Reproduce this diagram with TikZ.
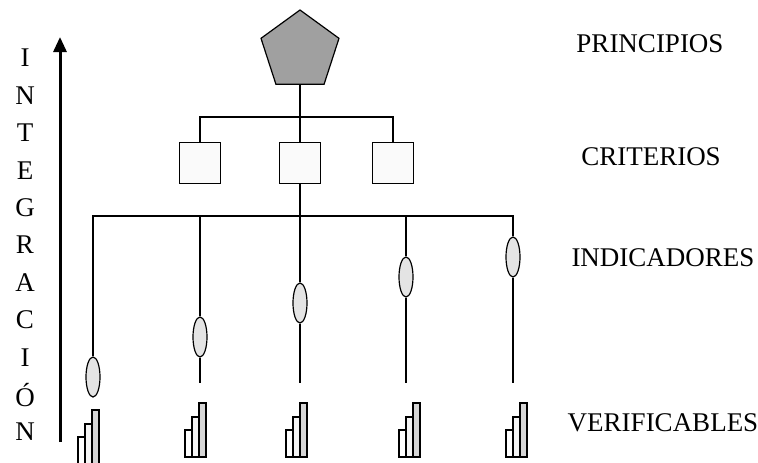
\documentclass[tikz,border=0pt]{standalone}
\usepackage{fontspec}
\setmainfont{Liberation Serif}
\usepackage{tikz}
\usetikzlibrary{arrows.meta,positioning,shapes.geometric}
\definecolor{pentgray}{RGB}{160,160,160}
\definecolor{ovalgray}{RGB}{228,228,228}
\definecolor{bargray}{RGB}{214,214,214}

\begin{document}
\begin{tikzpicture}
              [x=1pt,y=-1pt,line width=1.2pt,
                every node/.style={draw=none,fill=none,font=\fontsize{27}{27}\selectfont},
                pent/.style={regular polygon,regular polygon sides=5,draw,fill=pentgray,inner sep=0pt,minimum size=82pt},
                crit/.style={rectangle,draw,fill=white!98!black,inner sep=0pt,minimum size=41pt},
                indic/.style={ellipse,draw,fill=ovalgray,inner sep=0pt,minimum width=14pt,minimum height=40pt},
                lab/.style={font=\fontsize{27}{27}\selectfont}]
              \useasboundingbox (0,0) rectangle (758,463);
              \node[pent] (p0) at (300,51) {};
              \node[crit] (c1) at (200,163) {};
              \node[crit] (c2) at (300,163) {};
              \node[crit] (c3) at (393,163) {};
              \node[indic] (i1) at (93,377) {};
              \node[indic] (i2) at (200,337) {};
              \node[indic] (i3) at (300,303) {};
              \node[indic] (i4) at (406,277) {};
              \node[indic] (i5) at (513,257) {};
              \coordinate (b1) at (300,117);
              \coordinate (b2) at (300,216);
              \foreach \n/\x in {2/200,3/300,4/406,5/513}
                \coordinate (e\n) at (\x,383);
              % principio -> criterios
              \draw (p0.south) -- (b1);
              \foreach \to in {c1,c2,c3}
              \draw (b1) -| (\to.north);
              % criterios -> indicadores
              \draw (c2.south) -- (b2);
              \foreach \to in {i1,i2,i3,i4,i5}
              \draw (b2) -| (\to.north);
              \foreach \n in {2,3,4,5}
              \draw (i\n.south) -- (e\n);
              % verificables
              \foreach \x/\y in {78/464,185/457,286/457,399/457,506/457} {
                \draw[fill=white] (\x,\y) rectangle ++(7,-27);
                \draw[fill=gray!8] (\x+7,\y) rectangle ++(7,-40);
                \draw[fill=bargray] (\x+14,\y) rectangle ++(7,-54);
              }
              % eje
              \coordinate (a0) at (60,442);
              \coordinate (a1) at (60,37);
              \draw[line width=3pt,-{Triangle[length=15pt,width=13pt]}] (a0) -- (a1);
              \foreach \l [count=\i] in {I,N,T,E,G,R,A,C,I,Ó,N}
              \node (t\i) at (25,{58+37.4*(\i-1)}) {\l};
              \node[lab] (lp) at (650,44) {PRINCIPIOS};
              \node[lab] (lc) at (651,157) {CRITERIOS};
              \node[lab] (li) at (663,258) {INDICADORES};
              \node[lab] (lv) at (663,423) {VERIFICABLES};
            \end{tikzpicture}
\end{document}
